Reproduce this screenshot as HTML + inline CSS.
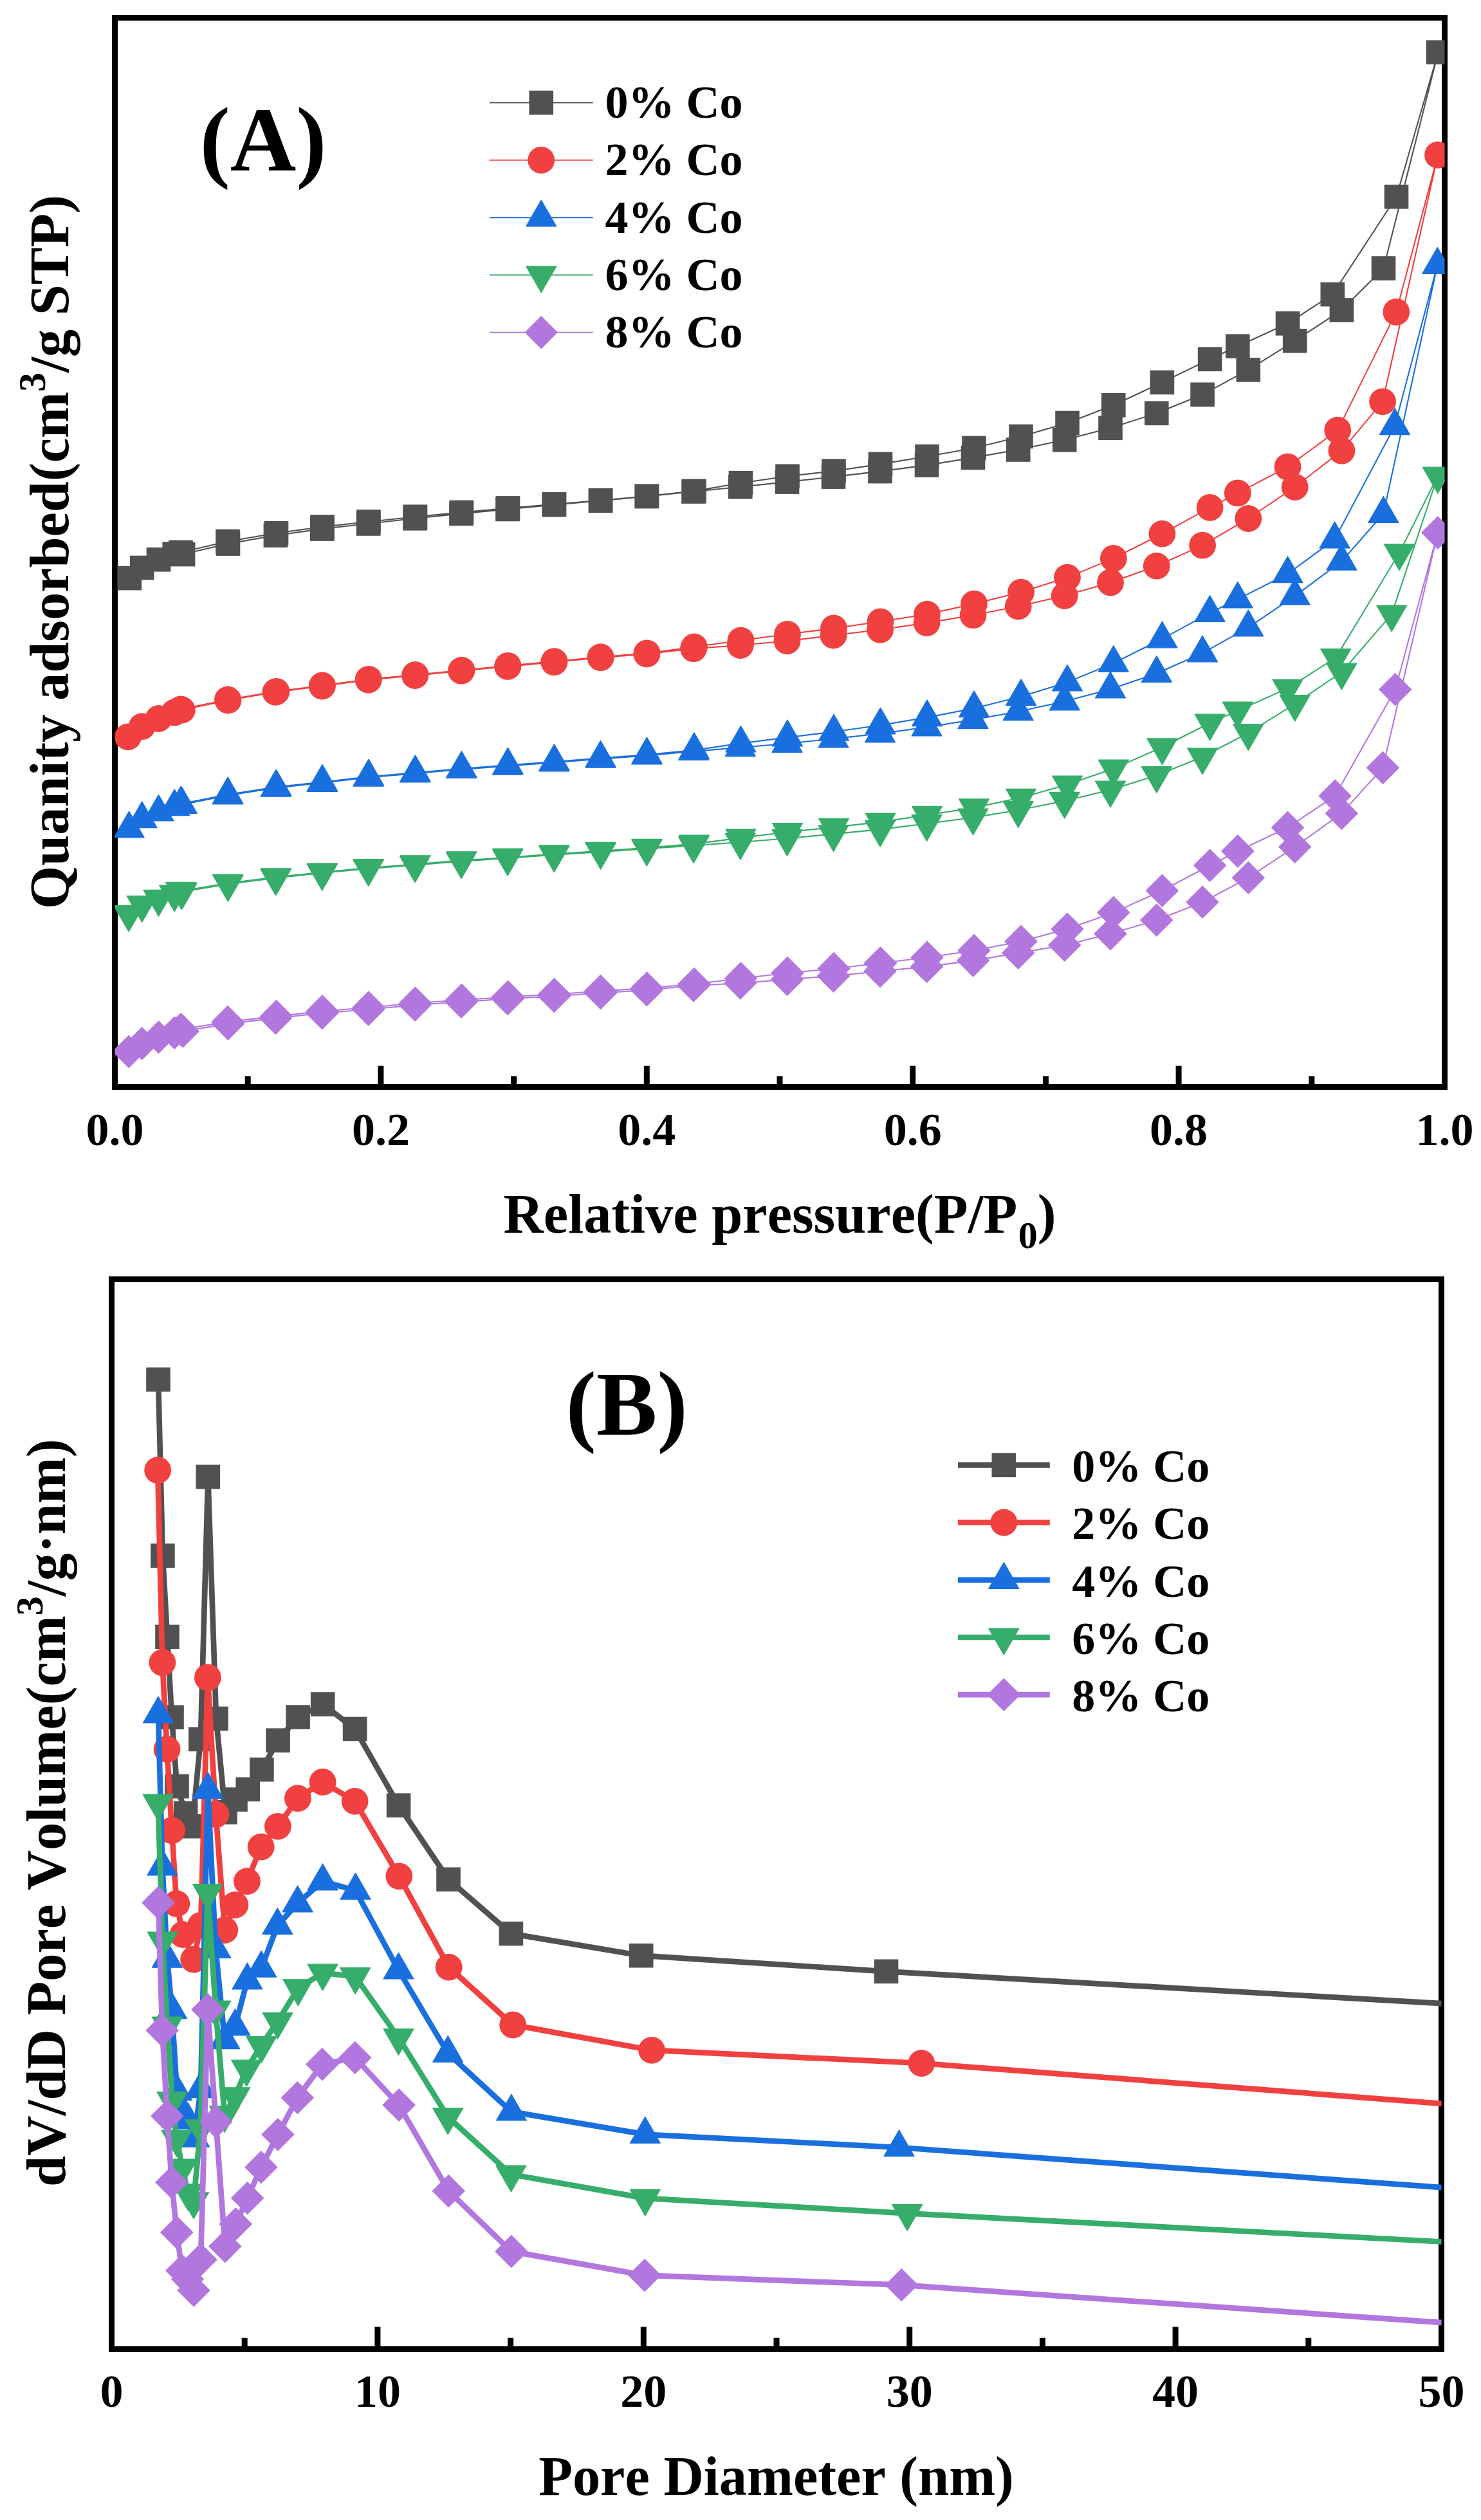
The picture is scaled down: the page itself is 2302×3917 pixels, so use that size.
<!DOCTYPE html>
<html><head><meta charset="utf-8"><title>N2 adsorption isotherms and pore size distribution</title>
<style>html,body{margin:0;padding:0;background:#fff}svg{display:block}</style></head>
<body>
<svg width="2302" height="3917" viewBox="0 0 2302 3917" font-family="'Liberation Serif','Times New Roman',serif" font-weight="bold" fill="#000" style="font-kerning:none">
<defs><clipPath id="ca"><rect x="178.5" y="27.5" width="2067" height="1662"/></clipPath><clipPath id="cb"><rect x="173.5" y="1988.5" width="2067" height="1663"/></clipPath></defs>
<rect width="2302" height="3917" fill="#fff"/>
<rect x="178.5" y="27.5" width="2067" height="1662" fill="none" stroke="#000" stroke-width="9"/>
<g stroke="#000" stroke-width="9"><line x1="591.9" y1="1689.5" x2="591.9" y2="1656.7"/><line x1="1005.3" y1="1689.5" x2="1005.3" y2="1656.7"/><line x1="1418.7" y1="1689.5" x2="1418.7" y2="1656.7"/><line x1="1832.1" y1="1689.5" x2="1832.1" y2="1656.7"/><line x1="385.2" y1="1689.5" x2="385.2" y2="1672.9"/><line x1="798.6" y1="1689.5" x2="798.6" y2="1672.9"/><line x1="1212" y1="1689.5" x2="1212" y2="1672.9"/><line x1="1625.4" y1="1689.5" x2="1625.4" y2="1672.9"/><line x1="2038.8" y1="1689.5" x2="2038.8" y2="1672.9"/></g>
<g clip-path="url(#ca)"><polyline fill="none" stroke="#515151" stroke-width="2.1" stroke-linejoin="round" points="201.3,898.6 220.7,882.5 246.5,869.8 271.2,861 284.6,861.6 354.5,845.1 428.4,832.2 500.7,822.1 572.6,814 645,805.8 717,798.4 789,791.5 861.3,784.7 933.6,778.3 1005.3,771.6 1078,764 1150.8,756.7 1223.5,749.1 1295.5,741.1 1368,732.6 1440.5,723.1 1512.5,711.4 1582.7,699 1654.7,683.8 1726,665.3 1797.8,642.3 1869.1,613.3 1940.3,574.9 2012.7,529.8 2085.4,482 2150.5,417 2235.5,81.3 2170.5,305.8 2071.3,457.6 2001.5,502.8 1923.8,538.2 1880.6,558.3 1806.4,594.4 1730.8,629.8 1659,657.5 1587,678.4 1514,696.5 1441,709.5 1368.5,721.4 1296,732.2 1224,740.3 1151.5,750.7 1079,763.4 1005.5,771.2 933.5,777.7 861.5,783.7 789.5,789.9 717.5,796.4 645.5,803.2 573,811 501,818.9 429.5,828.8 354,841.5 281,858.5"/>
<rect x="182.5" y="879.8" width="37.6" height="37.6" fill="#515151"/>
<rect x="201.9" y="863.7" width="37.6" height="37.6" fill="#515151"/>
<rect x="227.7" y="851" width="37.6" height="37.6" fill="#515151"/>
<rect x="252.4" y="842.2" width="37.6" height="37.6" fill="#515151"/>
<rect x="265.8" y="842.8" width="37.6" height="37.6" fill="#515151"/>
<rect x="335.7" y="826.3" width="37.6" height="37.6" fill="#515151"/>
<rect x="409.6" y="813.4" width="37.6" height="37.6" fill="#515151"/>
<rect x="481.9" y="803.3" width="37.6" height="37.6" fill="#515151"/>
<rect x="553.8" y="795.2" width="37.6" height="37.6" fill="#515151"/>
<rect x="626.2" y="787" width="37.6" height="37.6" fill="#515151"/>
<rect x="698.2" y="779.6" width="37.6" height="37.6" fill="#515151"/>
<rect x="770.2" y="772.7" width="37.6" height="37.6" fill="#515151"/>
<rect x="842.5" y="765.9" width="37.6" height="37.6" fill="#515151"/>
<rect x="914.8" y="759.5" width="37.6" height="37.6" fill="#515151"/>
<rect x="986.5" y="752.8" width="37.6" height="37.6" fill="#515151"/>
<rect x="1059.2" y="745.2" width="37.6" height="37.6" fill="#515151"/>
<rect x="1132" y="737.9" width="37.6" height="37.6" fill="#515151"/>
<rect x="1204.7" y="730.3" width="37.6" height="37.6" fill="#515151"/>
<rect x="1276.7" y="722.3" width="37.6" height="37.6" fill="#515151"/>
<rect x="1349.2" y="713.8" width="37.6" height="37.6" fill="#515151"/>
<rect x="1421.7" y="704.3" width="37.6" height="37.6" fill="#515151"/>
<rect x="1493.7" y="692.6" width="37.6" height="37.6" fill="#515151"/>
<rect x="1563.9" y="680.2" width="37.6" height="37.6" fill="#515151"/>
<rect x="1635.9" y="665" width="37.6" height="37.6" fill="#515151"/>
<rect x="1707.2" y="646.5" width="37.6" height="37.6" fill="#515151"/>
<rect x="1779" y="623.5" width="37.6" height="37.6" fill="#515151"/>
<rect x="1850.3" y="594.5" width="37.6" height="37.6" fill="#515151"/>
<rect x="1921.5" y="556.1" width="37.6" height="37.6" fill="#515151"/>
<rect x="1993.9" y="511" width="37.6" height="37.6" fill="#515151"/>
<rect x="2066.6" y="463.2" width="37.6" height="37.6" fill="#515151"/>
<rect x="2131.7" y="398.2" width="37.6" height="37.6" fill="#515151"/>
<rect x="2216.7" y="62.5" width="37.6" height="37.6" fill="#515151"/>
<rect x="2151.7" y="287" width="37.6" height="37.6" fill="#515151"/>
<rect x="2052.5" y="438.8" width="37.6" height="37.6" fill="#515151"/>
<rect x="1982.7" y="484" width="37.6" height="37.6" fill="#515151"/>
<rect x="1905" y="519.4" width="37.6" height="37.6" fill="#515151"/>
<rect x="1861.8" y="539.5" width="37.6" height="37.6" fill="#515151"/>
<rect x="1787.6" y="575.6" width="37.6" height="37.6" fill="#515151"/>
<rect x="1712" y="611" width="37.6" height="37.6" fill="#515151"/>
<rect x="1640.2" y="638.7" width="37.6" height="37.6" fill="#515151"/>
<rect x="1568.2" y="659.6" width="37.6" height="37.6" fill="#515151"/>
<rect x="1495.2" y="677.7" width="37.6" height="37.6" fill="#515151"/>
<rect x="1422.2" y="690.7" width="37.6" height="37.6" fill="#515151"/>
<rect x="1349.7" y="702.6" width="37.6" height="37.6" fill="#515151"/>
<rect x="1277.2" y="713.4" width="37.6" height="37.6" fill="#515151"/>
<rect x="1205.2" y="721.5" width="37.6" height="37.6" fill="#515151"/>
<rect x="1132.7" y="731.9" width="37.6" height="37.6" fill="#515151"/>
<rect x="1060.2" y="744.6" width="37.6" height="37.6" fill="#515151"/>
<rect x="986.7" y="752.4" width="37.6" height="37.6" fill="#515151"/>
<rect x="914.7" y="758.9" width="37.6" height="37.6" fill="#515151"/>
<rect x="842.7" y="764.9" width="37.6" height="37.6" fill="#515151"/>
<rect x="770.7" y="771.1" width="37.6" height="37.6" fill="#515151"/>
<rect x="698.7" y="777.6" width="37.6" height="37.6" fill="#515151"/>
<rect x="626.7" y="784.4" width="37.6" height="37.6" fill="#515151"/>
<rect x="554.2" y="792.2" width="37.6" height="37.6" fill="#515151"/>
<rect x="482.2" y="800.1" width="37.6" height="37.6" fill="#515151"/>
<rect x="410.7" y="810" width="37.6" height="37.6" fill="#515151"/>
<rect x="335.2" y="822.7" width="37.6" height="37.6" fill="#515151"/>
<rect x="262.2" y="839.7" width="37.6" height="37.6" fill="#515151"/>
<polyline fill="none" stroke="#F14040" stroke-width="2.1" stroke-linejoin="round" points="199,1145.3 220.7,1129.2 246.5,1117 271.2,1107.4 282.8,1103.5 354.5,1088.5 428.4,1075.8 500.7,1066.5 572.6,1056.8 645,1050 717,1042.7 789,1035.9 861.3,1029.1 933.6,1022.2 1005.3,1016.4 1078,1008.1 1150.8,1003 1223.5,996.3 1295.5,987.5 1368,978.8 1440.5,968.1 1512.5,956.2 1582.7,942.5 1654.7,926 1726,905.4 1797.8,879.7 1869.1,847.6 1940.3,806 2012.7,757 2085.4,700.6 2149.1,624.3 2235,240.9 2170.3,484.9 2079.2,668.6 2001.5,725.6 1923.8,766.4 1880.6,788.9 1806.4,829.7 1730.8,867.9 1659,897.6 1587,920.6 1514,938.6 1441,954.7 1368.5,966.3 1296,976.5 1224,985.8 1151.5,995.5 1079,1005.5 1005.5,1015.4 933.5,1021.2 861.5,1028.1 789.5,1034.9 717.5,1041.7 645.5,1049 573,1055.8 501,1065.5 429.5,1074.8 354,1087.5 281,1102.5"/>
<circle cx="199" cy="1145.3" r="20.9" fill="#F14040"/>
<circle cx="220.7" cy="1129.2" r="20.9" fill="#F14040"/>
<circle cx="246.5" cy="1117" r="20.9" fill="#F14040"/>
<circle cx="271.2" cy="1107.4" r="20.9" fill="#F14040"/>
<circle cx="282.8" cy="1103.5" r="20.9" fill="#F14040"/>
<circle cx="354.5" cy="1088.5" r="20.9" fill="#F14040"/>
<circle cx="428.4" cy="1075.8" r="20.9" fill="#F14040"/>
<circle cx="500.7" cy="1066.5" r="20.9" fill="#F14040"/>
<circle cx="572.6" cy="1056.8" r="20.9" fill="#F14040"/>
<circle cx="645" cy="1050" r="20.9" fill="#F14040"/>
<circle cx="717" cy="1042.7" r="20.9" fill="#F14040"/>
<circle cx="789" cy="1035.9" r="20.9" fill="#F14040"/>
<circle cx="861.3" cy="1029.1" r="20.9" fill="#F14040"/>
<circle cx="933.6" cy="1022.2" r="20.9" fill="#F14040"/>
<circle cx="1005.3" cy="1016.4" r="20.9" fill="#F14040"/>
<circle cx="1078" cy="1008.1" r="20.9" fill="#F14040"/>
<circle cx="1150.8" cy="1003" r="20.9" fill="#F14040"/>
<circle cx="1223.5" cy="996.3" r="20.9" fill="#F14040"/>
<circle cx="1295.5" cy="987.5" r="20.9" fill="#F14040"/>
<circle cx="1368" cy="978.8" r="20.9" fill="#F14040"/>
<circle cx="1440.5" cy="968.1" r="20.9" fill="#F14040"/>
<circle cx="1512.5" cy="956.2" r="20.9" fill="#F14040"/>
<circle cx="1582.7" cy="942.5" r="20.9" fill="#F14040"/>
<circle cx="1654.7" cy="926" r="20.9" fill="#F14040"/>
<circle cx="1726" cy="905.4" r="20.9" fill="#F14040"/>
<circle cx="1797.8" cy="879.7" r="20.9" fill="#F14040"/>
<circle cx="1869.1" cy="847.6" r="20.9" fill="#F14040"/>
<circle cx="1940.3" cy="806" r="20.9" fill="#F14040"/>
<circle cx="2012.7" cy="757" r="20.9" fill="#F14040"/>
<circle cx="2085.4" cy="700.6" r="20.9" fill="#F14040"/>
<circle cx="2149.1" cy="624.3" r="20.9" fill="#F14040"/>
<circle cx="2235" cy="240.9" r="20.9" fill="#F14040"/>
<circle cx="2170.3" cy="484.9" r="20.9" fill="#F14040"/>
<circle cx="2079.2" cy="668.6" r="20.9" fill="#F14040"/>
<circle cx="2001.5" cy="725.6" r="20.9" fill="#F14040"/>
<circle cx="1923.8" cy="766.4" r="20.9" fill="#F14040"/>
<circle cx="1880.6" cy="788.9" r="20.9" fill="#F14040"/>
<circle cx="1806.4" cy="829.7" r="20.9" fill="#F14040"/>
<circle cx="1730.8" cy="867.9" r="20.9" fill="#F14040"/>
<circle cx="1659" cy="897.6" r="20.9" fill="#F14040"/>
<circle cx="1587" cy="920.6" r="20.9" fill="#F14040"/>
<circle cx="1514" cy="938.6" r="20.9" fill="#F14040"/>
<circle cx="1441" cy="954.7" r="20.9" fill="#F14040"/>
<circle cx="1368.5" cy="966.3" r="20.9" fill="#F14040"/>
<circle cx="1296" cy="976.5" r="20.9" fill="#F14040"/>
<circle cx="1224" cy="985.8" r="20.9" fill="#F14040"/>
<circle cx="1151.5" cy="995.5" r="20.9" fill="#F14040"/>
<circle cx="1079" cy="1005.5" r="20.9" fill="#F14040"/>
<circle cx="1005.5" cy="1015.4" r="20.9" fill="#F14040"/>
<circle cx="933.5" cy="1021.2" r="20.9" fill="#F14040"/>
<circle cx="861.5" cy="1028.1" r="20.9" fill="#F14040"/>
<circle cx="789.5" cy="1034.9" r="20.9" fill="#F14040"/>
<circle cx="717.5" cy="1041.7" r="20.9" fill="#F14040"/>
<circle cx="645.5" cy="1049" r="20.9" fill="#F14040"/>
<circle cx="573" cy="1055.8" r="20.9" fill="#F14040"/>
<circle cx="501" cy="1065.5" r="20.9" fill="#F14040"/>
<circle cx="429.5" cy="1074.8" r="20.9" fill="#F14040"/>
<circle cx="354" cy="1087.5" r="20.9" fill="#F14040"/>
<circle cx="281" cy="1102.5" r="20.9" fill="#F14040"/>
<polyline fill="none" stroke="#1A6FDF" stroke-width="2.1" stroke-linejoin="round" points="200.6,1288.2 220.7,1273.1 246.5,1262.4 271.2,1254.1 282.8,1250.8 354.5,1236.3 428.4,1224.6 500.7,1216.8 572.6,1208.5 645,1202.2 717,1195.9 789,1190.6 861.3,1185.2 933.6,1179.6 1005.3,1174.4 1078,1167.9 1150.8,1162 1223.5,1155.7 1295.5,1148.4 1368,1140.2 1440.5,1130.4 1512.5,1118.8 1582.7,1106 1654.7,1090.2 1726,1071.3 1797.8,1046.8 1869.1,1015.2 1940.3,975.3 2012.7,926.4 2085.4,872.5 2150.3,798.7 2234.3,411.7 2168,662 2074.6,838.3 2001.5,892 1923.8,931.4 1880.6,952.7 1806.4,993.2 1730.8,1030.7 1659,1060.4 1587,1082.7 1514,1101 1441,1115.1 1368.5,1127.3 1296,1137.5 1224,1146.2 1151.5,1155.4 1079,1166 1005.5,1173.2 933.5,1178.4 861.5,1184 789.5,1189.4 717.5,1194.7 645.5,1201 573,1207.3 501,1215.6 429.5,1223.4 354,1235.1 281,1249.6"/>
<polygon points="200.6,1261 224.1,1301.8 177.1,1301.8" fill="#1A6FDF" stroke="#1A6FDF" stroke-width="1.2" stroke-linejoin="round"/>
<polygon points="220.7,1245.9 244.2,1286.7 197.2,1286.7" fill="#1A6FDF" stroke="#1A6FDF" stroke-width="1.2" stroke-linejoin="round"/>
<polygon points="246.5,1235.2 270,1276 223,1276" fill="#1A6FDF" stroke="#1A6FDF" stroke-width="1.2" stroke-linejoin="round"/>
<polygon points="271.2,1226.9 294.7,1267.7 247.7,1267.7" fill="#1A6FDF" stroke="#1A6FDF" stroke-width="1.2" stroke-linejoin="round"/>
<polygon points="282.8,1223.6 306.3,1264.4 259.3,1264.4" fill="#1A6FDF" stroke="#1A6FDF" stroke-width="1.2" stroke-linejoin="round"/>
<polygon points="354.5,1209.1 378,1249.9 331,1249.9" fill="#1A6FDF" stroke="#1A6FDF" stroke-width="1.2" stroke-linejoin="round"/>
<polygon points="428.4,1197.4 451.9,1238.2 404.9,1238.2" fill="#1A6FDF" stroke="#1A6FDF" stroke-width="1.2" stroke-linejoin="round"/>
<polygon points="500.7,1189.6 524.2,1230.4 477.2,1230.4" fill="#1A6FDF" stroke="#1A6FDF" stroke-width="1.2" stroke-linejoin="round"/>
<polygon points="572.6,1181.3 596.1,1222.1 549.1,1222.1" fill="#1A6FDF" stroke="#1A6FDF" stroke-width="1.2" stroke-linejoin="round"/>
<polygon points="645,1175 668.5,1215.8 621.5,1215.8" fill="#1A6FDF" stroke="#1A6FDF" stroke-width="1.2" stroke-linejoin="round"/>
<polygon points="717,1168.7 740.5,1209.5 693.5,1209.5" fill="#1A6FDF" stroke="#1A6FDF" stroke-width="1.2" stroke-linejoin="round"/>
<polygon points="789,1163.4 812.5,1204.2 765.5,1204.2" fill="#1A6FDF" stroke="#1A6FDF" stroke-width="1.2" stroke-linejoin="round"/>
<polygon points="861.3,1158 884.8,1198.8 837.8,1198.8" fill="#1A6FDF" stroke="#1A6FDF" stroke-width="1.2" stroke-linejoin="round"/>
<polygon points="933.6,1152.4 957.1,1193.2 910.1,1193.2" fill="#1A6FDF" stroke="#1A6FDF" stroke-width="1.2" stroke-linejoin="round"/>
<polygon points="1005.3,1147.2 1028.8,1188 981.8,1188" fill="#1A6FDF" stroke="#1A6FDF" stroke-width="1.2" stroke-linejoin="round"/>
<polygon points="1078,1140.7 1101.5,1181.5 1054.5,1181.5" fill="#1A6FDF" stroke="#1A6FDF" stroke-width="1.2" stroke-linejoin="round"/>
<polygon points="1150.8,1134.8 1174.3,1175.6 1127.3,1175.6" fill="#1A6FDF" stroke="#1A6FDF" stroke-width="1.2" stroke-linejoin="round"/>
<polygon points="1223.5,1128.5 1247,1169.3 1200,1169.3" fill="#1A6FDF" stroke="#1A6FDF" stroke-width="1.2" stroke-linejoin="round"/>
<polygon points="1295.5,1121.2 1319,1162 1272,1162" fill="#1A6FDF" stroke="#1A6FDF" stroke-width="1.2" stroke-linejoin="round"/>
<polygon points="1368,1113 1391.5,1153.8 1344.5,1153.8" fill="#1A6FDF" stroke="#1A6FDF" stroke-width="1.2" stroke-linejoin="round"/>
<polygon points="1440.5,1103.2 1464,1144 1417,1144" fill="#1A6FDF" stroke="#1A6FDF" stroke-width="1.2" stroke-linejoin="round"/>
<polygon points="1512.5,1091.6 1536,1132.4 1489,1132.4" fill="#1A6FDF" stroke="#1A6FDF" stroke-width="1.2" stroke-linejoin="round"/>
<polygon points="1582.7,1078.8 1606.2,1119.6 1559.2,1119.6" fill="#1A6FDF" stroke="#1A6FDF" stroke-width="1.2" stroke-linejoin="round"/>
<polygon points="1654.7,1063 1678.2,1103.8 1631.2,1103.8" fill="#1A6FDF" stroke="#1A6FDF" stroke-width="1.2" stroke-linejoin="round"/>
<polygon points="1726,1044.1 1749.5,1084.9 1702.5,1084.9" fill="#1A6FDF" stroke="#1A6FDF" stroke-width="1.2" stroke-linejoin="round"/>
<polygon points="1797.8,1019.6 1821.3,1060.4 1774.3,1060.4" fill="#1A6FDF" stroke="#1A6FDF" stroke-width="1.2" stroke-linejoin="round"/>
<polygon points="1869.1,988 1892.6,1028.8 1845.6,1028.8" fill="#1A6FDF" stroke="#1A6FDF" stroke-width="1.2" stroke-linejoin="round"/>
<polygon points="1940.3,948.1 1963.8,988.9 1916.8,988.9" fill="#1A6FDF" stroke="#1A6FDF" stroke-width="1.2" stroke-linejoin="round"/>
<polygon points="2012.7,899.2 2036.2,940 1989.2,940" fill="#1A6FDF" stroke="#1A6FDF" stroke-width="1.2" stroke-linejoin="round"/>
<polygon points="2085.4,845.3 2108.9,886.1 2061.9,886.1" fill="#1A6FDF" stroke="#1A6FDF" stroke-width="1.2" stroke-linejoin="round"/>
<polygon points="2150.3,771.5 2173.8,812.3 2126.8,812.3" fill="#1A6FDF" stroke="#1A6FDF" stroke-width="1.2" stroke-linejoin="round"/>
<polygon points="2234.3,384.5 2257.8,425.3 2210.8,425.3" fill="#1A6FDF" stroke="#1A6FDF" stroke-width="1.2" stroke-linejoin="round"/>
<polygon points="2168,634.8 2191.5,675.6 2144.5,675.6" fill="#1A6FDF" stroke="#1A6FDF" stroke-width="1.2" stroke-linejoin="round"/>
<polygon points="2074.6,811.1 2098.1,851.9 2051.1,851.9" fill="#1A6FDF" stroke="#1A6FDF" stroke-width="1.2" stroke-linejoin="round"/>
<polygon points="2001.5,864.8 2025,905.6 1978,905.6" fill="#1A6FDF" stroke="#1A6FDF" stroke-width="1.2" stroke-linejoin="round"/>
<polygon points="1923.8,904.2 1947.3,945 1900.3,945" fill="#1A6FDF" stroke="#1A6FDF" stroke-width="1.2" stroke-linejoin="round"/>
<polygon points="1880.6,925.5 1904.1,966.3 1857.1,966.3" fill="#1A6FDF" stroke="#1A6FDF" stroke-width="1.2" stroke-linejoin="round"/>
<polygon points="1806.4,966 1829.9,1006.8 1782.9,1006.8" fill="#1A6FDF" stroke="#1A6FDF" stroke-width="1.2" stroke-linejoin="round"/>
<polygon points="1730.8,1003.5 1754.3,1044.3 1707.3,1044.3" fill="#1A6FDF" stroke="#1A6FDF" stroke-width="1.2" stroke-linejoin="round"/>
<polygon points="1659,1033.2 1682.5,1074 1635.5,1074" fill="#1A6FDF" stroke="#1A6FDF" stroke-width="1.2" stroke-linejoin="round"/>
<polygon points="1587,1055.5 1610.5,1096.3 1563.5,1096.3" fill="#1A6FDF" stroke="#1A6FDF" stroke-width="1.2" stroke-linejoin="round"/>
<polygon points="1514,1073.8 1537.5,1114.6 1490.5,1114.6" fill="#1A6FDF" stroke="#1A6FDF" stroke-width="1.2" stroke-linejoin="round"/>
<polygon points="1441,1087.9 1464.5,1128.7 1417.5,1128.7" fill="#1A6FDF" stroke="#1A6FDF" stroke-width="1.2" stroke-linejoin="round"/>
<polygon points="1368.5,1100.1 1392,1140.9 1345,1140.9" fill="#1A6FDF" stroke="#1A6FDF" stroke-width="1.2" stroke-linejoin="round"/>
<polygon points="1296,1110.3 1319.5,1151.1 1272.5,1151.1" fill="#1A6FDF" stroke="#1A6FDF" stroke-width="1.2" stroke-linejoin="round"/>
<polygon points="1224,1119 1247.5,1159.8 1200.5,1159.8" fill="#1A6FDF" stroke="#1A6FDF" stroke-width="1.2" stroke-linejoin="round"/>
<polygon points="1151.5,1128.2 1175,1169 1128,1169" fill="#1A6FDF" stroke="#1A6FDF" stroke-width="1.2" stroke-linejoin="round"/>
<polygon points="1079,1138.8 1102.5,1179.6 1055.5,1179.6" fill="#1A6FDF" stroke="#1A6FDF" stroke-width="1.2" stroke-linejoin="round"/>
<polygon points="1005.5,1146 1029,1186.8 982,1186.8" fill="#1A6FDF" stroke="#1A6FDF" stroke-width="1.2" stroke-linejoin="round"/>
<polygon points="933.5,1151.2 957,1192 910,1192" fill="#1A6FDF" stroke="#1A6FDF" stroke-width="1.2" stroke-linejoin="round"/>
<polygon points="861.5,1156.8 885,1197.6 838,1197.6" fill="#1A6FDF" stroke="#1A6FDF" stroke-width="1.2" stroke-linejoin="round"/>
<polygon points="789.5,1162.2 813,1203 766,1203" fill="#1A6FDF" stroke="#1A6FDF" stroke-width="1.2" stroke-linejoin="round"/>
<polygon points="717.5,1167.5 741,1208.3 694,1208.3" fill="#1A6FDF" stroke="#1A6FDF" stroke-width="1.2" stroke-linejoin="round"/>
<polygon points="645.5,1173.8 669,1214.6 622,1214.6" fill="#1A6FDF" stroke="#1A6FDF" stroke-width="1.2" stroke-linejoin="round"/>
<polygon points="573,1180.1 596.5,1220.9 549.5,1220.9" fill="#1A6FDF" stroke="#1A6FDF" stroke-width="1.2" stroke-linejoin="round"/>
<polygon points="501,1188.4 524.5,1229.2 477.5,1229.2" fill="#1A6FDF" stroke="#1A6FDF" stroke-width="1.2" stroke-linejoin="round"/>
<polygon points="429.5,1196.2 453,1237 406,1237" fill="#1A6FDF" stroke="#1A6FDF" stroke-width="1.2" stroke-linejoin="round"/>
<polygon points="354,1207.9 377.5,1248.7 330.5,1248.7" fill="#1A6FDF" stroke="#1A6FDF" stroke-width="1.2" stroke-linejoin="round"/>
<polygon points="281,1222.4 304.5,1263.2 257.5,1263.2" fill="#1A6FDF" stroke="#1A6FDF" stroke-width="1.2" stroke-linejoin="round"/>
<polyline fill="none" stroke="#37AD6B" stroke-width="2.1" stroke-linejoin="round" points="200.1,1421 220.7,1406.3 246.5,1397 271.2,1389.7 282.8,1386.2 354.5,1374.1 428.4,1364.6 500.7,1356.9 572.6,1350.3 645,1344.6 717,1338.6 789,1334 861.3,1328.6 933.6,1324.1 1005.3,1319.1 1078,1314.4 1150.8,1309 1223.5,1303.2 1295.5,1296.4 1368,1289.1 1440.5,1280.3 1512.5,1270.8 1582.7,1259.2 1654.7,1245 1726,1227.8 1797.8,1205.3 1869.1,1176.5 1940.3,1139.3 2012.7,1094.1 2085.4,1044.8 2163.2,954.6 2234.8,739.8 2175,859.5 2076.3,1022.2 2001.5,1069.9 1923.8,1104.7 1880.6,1123.8 1806.4,1161.5 1730.8,1194.7 1659,1219.6 1587,1239.9 1514,1255.5 1441,1266.9 1368.5,1277.6 1296,1285.9 1224,1293.2 1151.5,1302.4 1079,1311.6 1005.5,1317.9 933.5,1322.9 861.5,1327.4 789.5,1332.8 717.5,1337.4 645.5,1343.4 573,1349.1 501,1355.7 429.5,1363.4 354,1372.9 281,1385"/>
<polygon points="200.1,1448.2 223.6,1407.4 176.6,1407.4" fill="#37AD6B" stroke="#37AD6B" stroke-width="1.2" stroke-linejoin="round"/>
<polygon points="220.7,1433.5 244.2,1392.7 197.2,1392.7" fill="#37AD6B" stroke="#37AD6B" stroke-width="1.2" stroke-linejoin="round"/>
<polygon points="246.5,1424.2 270,1383.4 223,1383.4" fill="#37AD6B" stroke="#37AD6B" stroke-width="1.2" stroke-linejoin="round"/>
<polygon points="271.2,1416.9 294.7,1376.1 247.7,1376.1" fill="#37AD6B" stroke="#37AD6B" stroke-width="1.2" stroke-linejoin="round"/>
<polygon points="282.8,1413.4 306.3,1372.6 259.3,1372.6" fill="#37AD6B" stroke="#37AD6B" stroke-width="1.2" stroke-linejoin="round"/>
<polygon points="354.5,1401.3 378,1360.5 331,1360.5" fill="#37AD6B" stroke="#37AD6B" stroke-width="1.2" stroke-linejoin="round"/>
<polygon points="428.4,1391.8 451.9,1351 404.9,1351" fill="#37AD6B" stroke="#37AD6B" stroke-width="1.2" stroke-linejoin="round"/>
<polygon points="500.7,1384.1 524.2,1343.3 477.2,1343.3" fill="#37AD6B" stroke="#37AD6B" stroke-width="1.2" stroke-linejoin="round"/>
<polygon points="572.6,1377.5 596.1,1336.7 549.1,1336.7" fill="#37AD6B" stroke="#37AD6B" stroke-width="1.2" stroke-linejoin="round"/>
<polygon points="645,1371.8 668.5,1331 621.5,1331" fill="#37AD6B" stroke="#37AD6B" stroke-width="1.2" stroke-linejoin="round"/>
<polygon points="717,1365.8 740.5,1325 693.5,1325" fill="#37AD6B" stroke="#37AD6B" stroke-width="1.2" stroke-linejoin="round"/>
<polygon points="789,1361.2 812.5,1320.4 765.5,1320.4" fill="#37AD6B" stroke="#37AD6B" stroke-width="1.2" stroke-linejoin="round"/>
<polygon points="861.3,1355.8 884.8,1315 837.8,1315" fill="#37AD6B" stroke="#37AD6B" stroke-width="1.2" stroke-linejoin="round"/>
<polygon points="933.6,1351.3 957.1,1310.5 910.1,1310.5" fill="#37AD6B" stroke="#37AD6B" stroke-width="1.2" stroke-linejoin="round"/>
<polygon points="1005.3,1346.3 1028.8,1305.5 981.8,1305.5" fill="#37AD6B" stroke="#37AD6B" stroke-width="1.2" stroke-linejoin="round"/>
<polygon points="1078,1341.6 1101.5,1300.8 1054.5,1300.8" fill="#37AD6B" stroke="#37AD6B" stroke-width="1.2" stroke-linejoin="round"/>
<polygon points="1150.8,1336.2 1174.3,1295.4 1127.3,1295.4" fill="#37AD6B" stroke="#37AD6B" stroke-width="1.2" stroke-linejoin="round"/>
<polygon points="1223.5,1330.4 1247,1289.6 1200,1289.6" fill="#37AD6B" stroke="#37AD6B" stroke-width="1.2" stroke-linejoin="round"/>
<polygon points="1295.5,1323.6 1319,1282.8 1272,1282.8" fill="#37AD6B" stroke="#37AD6B" stroke-width="1.2" stroke-linejoin="round"/>
<polygon points="1368,1316.3 1391.5,1275.5 1344.5,1275.5" fill="#37AD6B" stroke="#37AD6B" stroke-width="1.2" stroke-linejoin="round"/>
<polygon points="1440.5,1307.5 1464,1266.7 1417,1266.7" fill="#37AD6B" stroke="#37AD6B" stroke-width="1.2" stroke-linejoin="round"/>
<polygon points="1512.5,1298 1536,1257.2 1489,1257.2" fill="#37AD6B" stroke="#37AD6B" stroke-width="1.2" stroke-linejoin="round"/>
<polygon points="1582.7,1286.4 1606.2,1245.6 1559.2,1245.6" fill="#37AD6B" stroke="#37AD6B" stroke-width="1.2" stroke-linejoin="round"/>
<polygon points="1654.7,1272.2 1678.2,1231.4 1631.2,1231.4" fill="#37AD6B" stroke="#37AD6B" stroke-width="1.2" stroke-linejoin="round"/>
<polygon points="1726,1255 1749.5,1214.2 1702.5,1214.2" fill="#37AD6B" stroke="#37AD6B" stroke-width="1.2" stroke-linejoin="round"/>
<polygon points="1797.8,1232.5 1821.3,1191.7 1774.3,1191.7" fill="#37AD6B" stroke="#37AD6B" stroke-width="1.2" stroke-linejoin="round"/>
<polygon points="1869.1,1203.7 1892.6,1162.9 1845.6,1162.9" fill="#37AD6B" stroke="#37AD6B" stroke-width="1.2" stroke-linejoin="round"/>
<polygon points="1940.3,1166.5 1963.8,1125.7 1916.8,1125.7" fill="#37AD6B" stroke="#37AD6B" stroke-width="1.2" stroke-linejoin="round"/>
<polygon points="2012.7,1121.3 2036.2,1080.5 1989.2,1080.5" fill="#37AD6B" stroke="#37AD6B" stroke-width="1.2" stroke-linejoin="round"/>
<polygon points="2085.4,1072 2108.9,1031.2 2061.9,1031.2" fill="#37AD6B" stroke="#37AD6B" stroke-width="1.2" stroke-linejoin="round"/>
<polygon points="2163.2,981.8 2186.7,941 2139.7,941" fill="#37AD6B" stroke="#37AD6B" stroke-width="1.2" stroke-linejoin="round"/>
<polygon points="2234.8,767 2258.3,726.2 2211.3,726.2" fill="#37AD6B" stroke="#37AD6B" stroke-width="1.2" stroke-linejoin="round"/>
<polygon points="2175,886.7 2198.5,845.9 2151.5,845.9" fill="#37AD6B" stroke="#37AD6B" stroke-width="1.2" stroke-linejoin="round"/>
<polygon points="2076.3,1049.4 2099.8,1008.6 2052.8,1008.6" fill="#37AD6B" stroke="#37AD6B" stroke-width="1.2" stroke-linejoin="round"/>
<polygon points="2001.5,1097.1 2025,1056.3 1978,1056.3" fill="#37AD6B" stroke="#37AD6B" stroke-width="1.2" stroke-linejoin="round"/>
<polygon points="1923.8,1131.9 1947.3,1091.1 1900.3,1091.1" fill="#37AD6B" stroke="#37AD6B" stroke-width="1.2" stroke-linejoin="round"/>
<polygon points="1880.6,1151 1904.1,1110.2 1857.1,1110.2" fill="#37AD6B" stroke="#37AD6B" stroke-width="1.2" stroke-linejoin="round"/>
<polygon points="1806.4,1188.7 1829.9,1147.9 1782.9,1147.9" fill="#37AD6B" stroke="#37AD6B" stroke-width="1.2" stroke-linejoin="round"/>
<polygon points="1730.8,1221.9 1754.3,1181.1 1707.3,1181.1" fill="#37AD6B" stroke="#37AD6B" stroke-width="1.2" stroke-linejoin="round"/>
<polygon points="1659,1246.8 1682.5,1206 1635.5,1206" fill="#37AD6B" stroke="#37AD6B" stroke-width="1.2" stroke-linejoin="round"/>
<polygon points="1587,1267.1 1610.5,1226.3 1563.5,1226.3" fill="#37AD6B" stroke="#37AD6B" stroke-width="1.2" stroke-linejoin="round"/>
<polygon points="1514,1282.7 1537.5,1241.9 1490.5,1241.9" fill="#37AD6B" stroke="#37AD6B" stroke-width="1.2" stroke-linejoin="round"/>
<polygon points="1441,1294.1 1464.5,1253.3 1417.5,1253.3" fill="#37AD6B" stroke="#37AD6B" stroke-width="1.2" stroke-linejoin="round"/>
<polygon points="1368.5,1304.8 1392,1264 1345,1264" fill="#37AD6B" stroke="#37AD6B" stroke-width="1.2" stroke-linejoin="round"/>
<polygon points="1296,1313.1 1319.5,1272.3 1272.5,1272.3" fill="#37AD6B" stroke="#37AD6B" stroke-width="1.2" stroke-linejoin="round"/>
<polygon points="1224,1320.4 1247.5,1279.6 1200.5,1279.6" fill="#37AD6B" stroke="#37AD6B" stroke-width="1.2" stroke-linejoin="round"/>
<polygon points="1151.5,1329.6 1175,1288.8 1128,1288.8" fill="#37AD6B" stroke="#37AD6B" stroke-width="1.2" stroke-linejoin="round"/>
<polygon points="1079,1338.8 1102.5,1298 1055.5,1298" fill="#37AD6B" stroke="#37AD6B" stroke-width="1.2" stroke-linejoin="round"/>
<polygon points="1005.5,1345.1 1029,1304.3 982,1304.3" fill="#37AD6B" stroke="#37AD6B" stroke-width="1.2" stroke-linejoin="round"/>
<polygon points="933.5,1350.1 957,1309.3 910,1309.3" fill="#37AD6B" stroke="#37AD6B" stroke-width="1.2" stroke-linejoin="round"/>
<polygon points="861.5,1354.6 885,1313.8 838,1313.8" fill="#37AD6B" stroke="#37AD6B" stroke-width="1.2" stroke-linejoin="round"/>
<polygon points="789.5,1360 813,1319.2 766,1319.2" fill="#37AD6B" stroke="#37AD6B" stroke-width="1.2" stroke-linejoin="round"/>
<polygon points="717.5,1364.6 741,1323.8 694,1323.8" fill="#37AD6B" stroke="#37AD6B" stroke-width="1.2" stroke-linejoin="round"/>
<polygon points="645.5,1370.6 669,1329.8 622,1329.8" fill="#37AD6B" stroke="#37AD6B" stroke-width="1.2" stroke-linejoin="round"/>
<polygon points="573,1376.3 596.5,1335.5 549.5,1335.5" fill="#37AD6B" stroke="#37AD6B" stroke-width="1.2" stroke-linejoin="round"/>
<polygon points="501,1382.9 524.5,1342.1 477.5,1342.1" fill="#37AD6B" stroke="#37AD6B" stroke-width="1.2" stroke-linejoin="round"/>
<polygon points="429.5,1390.6 453,1349.8 406,1349.8" fill="#37AD6B" stroke="#37AD6B" stroke-width="1.2" stroke-linejoin="round"/>
<polygon points="354,1400.1 377.5,1359.3 330.5,1359.3" fill="#37AD6B" stroke="#37AD6B" stroke-width="1.2" stroke-linejoin="round"/>
<polygon points="281,1412.2 304.5,1371.4 257.5,1371.4" fill="#37AD6B" stroke="#37AD6B" stroke-width="1.2" stroke-linejoin="round"/>
<polyline fill="none" stroke="#B177DE" stroke-width="2.1" stroke-linejoin="round" points="200.1,1634.6 220.7,1622 246.5,1612.2 271.2,1605.4 284.2,1603 354.5,1591.4 428.4,1582.6 500.7,1574.8 572.6,1569 645,1562.2 717,1557.3 789,1552.5 861.3,1548.5 933.6,1543.5 1005.3,1538.9 1078,1532 1150.8,1528.2 1223.5,1522.4 1295.5,1517 1368,1509.7 1440.5,1502.4 1512.5,1493.1 1582.7,1481.2 1654.7,1469.1 1726,1451.5 1797.8,1430.2 1869.1,1402.2 1940.3,1364.4 2012.7,1316.3 2085.4,1264.3 2149.4,1193.4 2234.8,828 2168.7,1071.7 2075.1,1237.1 2001.5,1286.3 1923.8,1323 1880.6,1345.2 1806.4,1384.3 1730.8,1418.4 1659,1444.1 1587,1463.3 1514,1477.5 1441,1488.2 1368.5,1497 1296,1505.7 1224,1512.5 1151.5,1520.8 1079,1529.5 1005.5,1535.9 933.5,1540.5 861.5,1545.5 789.5,1549.5 717.5,1554.3 645.5,1559.2 573,1566 501,1571.8 429.5,1579.6 354,1588.4 281,1600"/>
<polygon points="200.1,1609.6 225.1,1634.6 200.1,1659.6 175.1,1634.6" fill="#B177DE" stroke="#B177DE" stroke-width="1.2" stroke-linejoin="round"/>
<polygon points="220.7,1597 245.7,1622 220.7,1647 195.7,1622" fill="#B177DE" stroke="#B177DE" stroke-width="1.2" stroke-linejoin="round"/>
<polygon points="246.5,1587.2 271.5,1612.2 246.5,1637.2 221.5,1612.2" fill="#B177DE" stroke="#B177DE" stroke-width="1.2" stroke-linejoin="round"/>
<polygon points="271.2,1580.4 296.2,1605.4 271.2,1630.4 246.2,1605.4" fill="#B177DE" stroke="#B177DE" stroke-width="1.2" stroke-linejoin="round"/>
<polygon points="284.2,1578 309.2,1603 284.2,1628 259.2,1603" fill="#B177DE" stroke="#B177DE" stroke-width="1.2" stroke-linejoin="round"/>
<polygon points="354.5,1566.4 379.5,1591.4 354.5,1616.4 329.5,1591.4" fill="#B177DE" stroke="#B177DE" stroke-width="1.2" stroke-linejoin="round"/>
<polygon points="428.4,1557.6 453.4,1582.6 428.4,1607.6 403.4,1582.6" fill="#B177DE" stroke="#B177DE" stroke-width="1.2" stroke-linejoin="round"/>
<polygon points="500.7,1549.8 525.7,1574.8 500.7,1599.8 475.7,1574.8" fill="#B177DE" stroke="#B177DE" stroke-width="1.2" stroke-linejoin="round"/>
<polygon points="572.6,1544 597.6,1569 572.6,1594 547.6,1569" fill="#B177DE" stroke="#B177DE" stroke-width="1.2" stroke-linejoin="round"/>
<polygon points="645,1537.2 670,1562.2 645,1587.2 620,1562.2" fill="#B177DE" stroke="#B177DE" stroke-width="1.2" stroke-linejoin="round"/>
<polygon points="717,1532.3 742,1557.3 717,1582.3 692,1557.3" fill="#B177DE" stroke="#B177DE" stroke-width="1.2" stroke-linejoin="round"/>
<polygon points="789,1527.5 814,1552.5 789,1577.5 764,1552.5" fill="#B177DE" stroke="#B177DE" stroke-width="1.2" stroke-linejoin="round"/>
<polygon points="861.3,1523.5 886.3,1548.5 861.3,1573.5 836.3,1548.5" fill="#B177DE" stroke="#B177DE" stroke-width="1.2" stroke-linejoin="round"/>
<polygon points="933.6,1518.5 958.6,1543.5 933.6,1568.5 908.6,1543.5" fill="#B177DE" stroke="#B177DE" stroke-width="1.2" stroke-linejoin="round"/>
<polygon points="1005.3,1513.9 1030.3,1538.9 1005.3,1563.9 980.3,1538.9" fill="#B177DE" stroke="#B177DE" stroke-width="1.2" stroke-linejoin="round"/>
<polygon points="1078,1507 1103,1532 1078,1557 1053,1532" fill="#B177DE" stroke="#B177DE" stroke-width="1.2" stroke-linejoin="round"/>
<polygon points="1150.8,1503.2 1175.8,1528.2 1150.8,1553.2 1125.8,1528.2" fill="#B177DE" stroke="#B177DE" stroke-width="1.2" stroke-linejoin="round"/>
<polygon points="1223.5,1497.4 1248.5,1522.4 1223.5,1547.4 1198.5,1522.4" fill="#B177DE" stroke="#B177DE" stroke-width="1.2" stroke-linejoin="round"/>
<polygon points="1295.5,1492 1320.5,1517 1295.5,1542 1270.5,1517" fill="#B177DE" stroke="#B177DE" stroke-width="1.2" stroke-linejoin="round"/>
<polygon points="1368,1484.7 1393,1509.7 1368,1534.7 1343,1509.7" fill="#B177DE" stroke="#B177DE" stroke-width="1.2" stroke-linejoin="round"/>
<polygon points="1440.5,1477.4 1465.5,1502.4 1440.5,1527.4 1415.5,1502.4" fill="#B177DE" stroke="#B177DE" stroke-width="1.2" stroke-linejoin="round"/>
<polygon points="1512.5,1468.1 1537.5,1493.1 1512.5,1518.1 1487.5,1493.1" fill="#B177DE" stroke="#B177DE" stroke-width="1.2" stroke-linejoin="round"/>
<polygon points="1582.7,1456.2 1607.7,1481.2 1582.7,1506.2 1557.7,1481.2" fill="#B177DE" stroke="#B177DE" stroke-width="1.2" stroke-linejoin="round"/>
<polygon points="1654.7,1444.1 1679.7,1469.1 1654.7,1494.1 1629.7,1469.1" fill="#B177DE" stroke="#B177DE" stroke-width="1.2" stroke-linejoin="round"/>
<polygon points="1726,1426.5 1751,1451.5 1726,1476.5 1701,1451.5" fill="#B177DE" stroke="#B177DE" stroke-width="1.2" stroke-linejoin="round"/>
<polygon points="1797.8,1405.2 1822.8,1430.2 1797.8,1455.2 1772.8,1430.2" fill="#B177DE" stroke="#B177DE" stroke-width="1.2" stroke-linejoin="round"/>
<polygon points="1869.1,1377.2 1894.1,1402.2 1869.1,1427.2 1844.1,1402.2" fill="#B177DE" stroke="#B177DE" stroke-width="1.2" stroke-linejoin="round"/>
<polygon points="1940.3,1339.4 1965.3,1364.4 1940.3,1389.4 1915.3,1364.4" fill="#B177DE" stroke="#B177DE" stroke-width="1.2" stroke-linejoin="round"/>
<polygon points="2012.7,1291.3 2037.7,1316.3 2012.7,1341.3 1987.7,1316.3" fill="#B177DE" stroke="#B177DE" stroke-width="1.2" stroke-linejoin="round"/>
<polygon points="2085.4,1239.3 2110.4,1264.3 2085.4,1289.3 2060.4,1264.3" fill="#B177DE" stroke="#B177DE" stroke-width="1.2" stroke-linejoin="round"/>
<polygon points="2149.4,1168.4 2174.4,1193.4 2149.4,1218.4 2124.4,1193.4" fill="#B177DE" stroke="#B177DE" stroke-width="1.2" stroke-linejoin="round"/>
<polygon points="2234.8,803 2259.8,828 2234.8,853 2209.8,828" fill="#B177DE" stroke="#B177DE" stroke-width="1.2" stroke-linejoin="round"/>
<polygon points="2168.7,1046.7 2193.7,1071.7 2168.7,1096.7 2143.7,1071.7" fill="#B177DE" stroke="#B177DE" stroke-width="1.2" stroke-linejoin="round"/>
<polygon points="2075.1,1212.1 2100.1,1237.1 2075.1,1262.1 2050.1,1237.1" fill="#B177DE" stroke="#B177DE" stroke-width="1.2" stroke-linejoin="round"/>
<polygon points="2001.5,1261.3 2026.5,1286.3 2001.5,1311.3 1976.5,1286.3" fill="#B177DE" stroke="#B177DE" stroke-width="1.2" stroke-linejoin="round"/>
<polygon points="1923.8,1298 1948.8,1323 1923.8,1348 1898.8,1323" fill="#B177DE" stroke="#B177DE" stroke-width="1.2" stroke-linejoin="round"/>
<polygon points="1880.6,1320.2 1905.6,1345.2 1880.6,1370.2 1855.6,1345.2" fill="#B177DE" stroke="#B177DE" stroke-width="1.2" stroke-linejoin="round"/>
<polygon points="1806.4,1359.3 1831.4,1384.3 1806.4,1409.3 1781.4,1384.3" fill="#B177DE" stroke="#B177DE" stroke-width="1.2" stroke-linejoin="round"/>
<polygon points="1730.8,1393.4 1755.8,1418.4 1730.8,1443.4 1705.8,1418.4" fill="#B177DE" stroke="#B177DE" stroke-width="1.2" stroke-linejoin="round"/>
<polygon points="1659,1419.1 1684,1444.1 1659,1469.1 1634,1444.1" fill="#B177DE" stroke="#B177DE" stroke-width="1.2" stroke-linejoin="round"/>
<polygon points="1587,1438.3 1612,1463.3 1587,1488.3 1562,1463.3" fill="#B177DE" stroke="#B177DE" stroke-width="1.2" stroke-linejoin="round"/>
<polygon points="1514,1452.5 1539,1477.5 1514,1502.5 1489,1477.5" fill="#B177DE" stroke="#B177DE" stroke-width="1.2" stroke-linejoin="round"/>
<polygon points="1441,1463.2 1466,1488.2 1441,1513.2 1416,1488.2" fill="#B177DE" stroke="#B177DE" stroke-width="1.2" stroke-linejoin="round"/>
<polygon points="1368.5,1472 1393.5,1497 1368.5,1522 1343.5,1497" fill="#B177DE" stroke="#B177DE" stroke-width="1.2" stroke-linejoin="round"/>
<polygon points="1296,1480.7 1321,1505.7 1296,1530.7 1271,1505.7" fill="#B177DE" stroke="#B177DE" stroke-width="1.2" stroke-linejoin="round"/>
<polygon points="1224,1487.5 1249,1512.5 1224,1537.5 1199,1512.5" fill="#B177DE" stroke="#B177DE" stroke-width="1.2" stroke-linejoin="round"/>
<polygon points="1151.5,1495.8 1176.5,1520.8 1151.5,1545.8 1126.5,1520.8" fill="#B177DE" stroke="#B177DE" stroke-width="1.2" stroke-linejoin="round"/>
<polygon points="1079,1504.5 1104,1529.5 1079,1554.5 1054,1529.5" fill="#B177DE" stroke="#B177DE" stroke-width="1.2" stroke-linejoin="round"/>
<polygon points="1005.5,1510.9 1030.5,1535.9 1005.5,1560.9 980.5,1535.9" fill="#B177DE" stroke="#B177DE" stroke-width="1.2" stroke-linejoin="round"/>
<polygon points="933.5,1515.5 958.5,1540.5 933.5,1565.5 908.5,1540.5" fill="#B177DE" stroke="#B177DE" stroke-width="1.2" stroke-linejoin="round"/>
<polygon points="861.5,1520.5 886.5,1545.5 861.5,1570.5 836.5,1545.5" fill="#B177DE" stroke="#B177DE" stroke-width="1.2" stroke-linejoin="round"/>
<polygon points="789.5,1524.5 814.5,1549.5 789.5,1574.5 764.5,1549.5" fill="#B177DE" stroke="#B177DE" stroke-width="1.2" stroke-linejoin="round"/>
<polygon points="717.5,1529.3 742.5,1554.3 717.5,1579.3 692.5,1554.3" fill="#B177DE" stroke="#B177DE" stroke-width="1.2" stroke-linejoin="round"/>
<polygon points="645.5,1534.2 670.5,1559.2 645.5,1584.2 620.5,1559.2" fill="#B177DE" stroke="#B177DE" stroke-width="1.2" stroke-linejoin="round"/>
<polygon points="573,1541 598,1566 573,1591 548,1566" fill="#B177DE" stroke="#B177DE" stroke-width="1.2" stroke-linejoin="round"/>
<polygon points="501,1546.8 526,1571.8 501,1596.8 476,1571.8" fill="#B177DE" stroke="#B177DE" stroke-width="1.2" stroke-linejoin="round"/>
<polygon points="429.5,1554.6 454.5,1579.6 429.5,1604.6 404.5,1579.6" fill="#B177DE" stroke="#B177DE" stroke-width="1.2" stroke-linejoin="round"/>
<polygon points="354,1563.4 379,1588.4 354,1613.4 329,1588.4" fill="#B177DE" stroke="#B177DE" stroke-width="1.2" stroke-linejoin="round"/>
<polygon points="281,1575 306,1600 281,1625 256,1600" fill="#B177DE" stroke="#B177DE" stroke-width="1.2" stroke-linejoin="round"/></g>
<g font-size="72" text-anchor="middle"><text x="178.5" y="1780">0.0</text><text x="591.9" y="1780">0.2</text><text x="1005.3" y="1780">0.4</text><text x="1418.7" y="1780">0.6</text><text x="1832.1" y="1780">0.8</text><text x="2245.5" y="1780">1.0</text></g>
<line x1="760.8" y1="159.6" x2="921.7" y2="159.6" stroke="#515151" stroke-width="1.9"/>
<rect x="822.5" y="140.8" width="37.6" height="37.6" fill="#515151"/>
<text x="940.5" y="183" font-size="72">0% Co</text>
<line x1="760.8" y1="248.9" x2="921.7" y2="248.9" stroke="#F14040" stroke-width="1.9"/>
<circle cx="841.2" cy="248.9" r="20.9" fill="#F14040"/>
<text x="940.5" y="272.3" font-size="72">2% Co</text>
<line x1="760.8" y1="338.2" x2="921.7" y2="338.2" stroke="#1A6FDF" stroke-width="1.9"/>
<polygon points="841.2,311 864.8,351.8 817.8,351.8" fill="#1A6FDF" stroke="#1A6FDF" stroke-width="1.2" stroke-linejoin="round"/>
<text x="940.5" y="361.6" font-size="72">4% Co</text>
<line x1="760.8" y1="427.5" x2="921.7" y2="427.5" stroke="#37AD6B" stroke-width="1.9"/>
<polygon points="841.2,454.7 864.8,413.9 817.8,413.9" fill="#37AD6B" stroke="#37AD6B" stroke-width="1.2" stroke-linejoin="round"/>
<text x="940.5" y="450.9" font-size="72">6% Co</text>
<line x1="760.8" y1="516.7" x2="921.7" y2="516.7" stroke="#B177DE" stroke-width="1.9"/>
<polygon points="841.2,491.7 866.2,516.7 841.2,541.7 816.2,516.7" fill="#B177DE" stroke="#B177DE" stroke-width="1.2" stroke-linejoin="round"/>
<text x="940.5" y="540.1" font-size="72">8% Co</text>
<text x="310.5" y="264.8" font-size="142">(A)</text>
<text x="1212" y="1915.7" font-size="86.4" text-anchor="middle">Relative pressure(P/P<tspan font-size="60" dy="24.5" dx="1.5">0</tspan><tspan dy="-24.5">)</tspan></text>
<text transform="translate(105.8 1413) rotate(-90)" font-size="86.4">Quanity adsorbed(cm<tspan font-size="60" dy="-35.6">3</tspan><tspan dy="35.6">/g STP)</tspan></text>
<rect x="173.5" y="1988.5" width="2067" height="1663" fill="none" stroke="#000" stroke-width="9"/>
<g stroke="#000" stroke-width="9"><line x1="586.9" y1="3651.5" x2="586.9" y2="3616.7"/><line x1="1000.3" y1="3651.5" x2="1000.3" y2="3616.7"/><line x1="1413.7" y1="3651.5" x2="1413.7" y2="3616.7"/><line x1="1827.1" y1="3651.5" x2="1827.1" y2="3616.7"/><line x1="380.2" y1="3651.5" x2="380.2" y2="3633.8"/><line x1="793.6" y1="3651.5" x2="793.6" y2="3633.8"/><line x1="1207" y1="3651.5" x2="1207" y2="3633.8"/><line x1="1620.4" y1="3651.5" x2="1620.4" y2="3633.8"/><line x1="2033.8" y1="3651.5" x2="2033.8" y2="3633.8"/></g>
<g clip-path="url(#cb)"><polyline fill="none" stroke="#515151" stroke-width="8.7" stroke-linejoin="round" points="246,2144.3 252.9,2418.1 260,2544.3 267,2669.3 275,2776.6 288.7,2818.6 299,2838.7 311.8,2703.4 323.3,2295.5 336,2671.4 350,2816.8 366,2797.1 385.2,2781.3 406.9,2750.6 432.1,2705.2 463.1,2669 501.7,2649 551.6,2687.4 619.6,2806.2 697,2921.3 794.4,3005.6 996.7,3039.7 1377.5,3064.3 2320,3118.8"/>
<rect x="227.2" y="2125.5" width="37.6" height="37.6" fill="#515151"/>
<rect x="234.1" y="2399.3" width="37.6" height="37.6" fill="#515151"/>
<rect x="241.2" y="2525.5" width="37.6" height="37.6" fill="#515151"/>
<rect x="248.2" y="2650.5" width="37.6" height="37.6" fill="#515151"/>
<rect x="256.2" y="2757.8" width="37.6" height="37.6" fill="#515151"/>
<rect x="269.9" y="2799.8" width="37.6" height="37.6" fill="#515151"/>
<rect x="280.2" y="2819.9" width="37.6" height="37.6" fill="#515151"/>
<rect x="293" y="2684.6" width="37.6" height="37.6" fill="#515151"/>
<rect x="304.5" y="2276.7" width="37.6" height="37.6" fill="#515151"/>
<rect x="317.2" y="2652.6" width="37.6" height="37.6" fill="#515151"/>
<rect x="331.2" y="2798" width="37.6" height="37.6" fill="#515151"/>
<rect x="347.2" y="2778.3" width="37.6" height="37.6" fill="#515151"/>
<rect x="366.4" y="2762.5" width="37.6" height="37.6" fill="#515151"/>
<rect x="388.1" y="2731.8" width="37.6" height="37.6" fill="#515151"/>
<rect x="413.3" y="2686.4" width="37.6" height="37.6" fill="#515151"/>
<rect x="444.3" y="2650.2" width="37.6" height="37.6" fill="#515151"/>
<rect x="482.9" y="2630.2" width="37.6" height="37.6" fill="#515151"/>
<rect x="532.8" y="2668.6" width="37.6" height="37.6" fill="#515151"/>
<rect x="600.8" y="2787.4" width="37.6" height="37.6" fill="#515151"/>
<rect x="678.2" y="2902.5" width="37.6" height="37.6" fill="#515151"/>
<rect x="775.6" y="2986.8" width="37.6" height="37.6" fill="#515151"/>
<rect x="977.9" y="3020.9" width="37.6" height="37.6" fill="#515151"/>
<rect x="1358.7" y="3045.5" width="37.6" height="37.6" fill="#515151"/>
<polyline fill="none" stroke="#F14040" stroke-width="8.7" stroke-linejoin="round" points="245.2,2285.2 252.4,2584.3 259.5,2719 267.1,2845.2 274.4,2959 284.3,3007 301.2,3045.7 312.1,2992.7 322.9,2607.4 335.5,2820.2 349.3,3000 365.3,2961 384,2924.2 405.7,2870.7 431.9,2838.8 462.9,2795.2 501.6,2769.9 551.6,2799.8 620.3,2916.3 697.7,3057.7 797.2,3147.4 1013,3186.8 1432.3,3207 2320,3275.9"/>
<circle cx="245.2" cy="2285.2" r="20.9" fill="#F14040"/>
<circle cx="252.4" cy="2584.3" r="20.9" fill="#F14040"/>
<circle cx="259.5" cy="2719" r="20.9" fill="#F14040"/>
<circle cx="267.1" cy="2845.2" r="20.9" fill="#F14040"/>
<circle cx="274.4" cy="2959" r="20.9" fill="#F14040"/>
<circle cx="284.3" cy="3007" r="20.9" fill="#F14040"/>
<circle cx="301.2" cy="3045.7" r="20.9" fill="#F14040"/>
<circle cx="312.1" cy="2992.7" r="20.9" fill="#F14040"/>
<circle cx="322.9" cy="2607.4" r="20.9" fill="#F14040"/>
<circle cx="335.5" cy="2820.2" r="20.9" fill="#F14040"/>
<circle cx="349.3" cy="3000" r="20.9" fill="#F14040"/>
<circle cx="365.3" cy="2961" r="20.9" fill="#F14040"/>
<circle cx="384" cy="2924.2" r="20.9" fill="#F14040"/>
<circle cx="405.7" cy="2870.7" r="20.9" fill="#F14040"/>
<circle cx="431.9" cy="2838.8" r="20.9" fill="#F14040"/>
<circle cx="462.9" cy="2795.2" r="20.9" fill="#F14040"/>
<circle cx="501.6" cy="2769.9" r="20.9" fill="#F14040"/>
<circle cx="551.6" cy="2799.8" r="20.9" fill="#F14040"/>
<circle cx="620.3" cy="2916.3" r="20.9" fill="#F14040"/>
<circle cx="697.7" cy="3057.7" r="20.9" fill="#F14040"/>
<circle cx="797.2" cy="3147.4" r="20.9" fill="#F14040"/>
<circle cx="1013" cy="3186.8" r="20.9" fill="#F14040"/>
<circle cx="1432.3" cy="3207" r="20.9" fill="#F14040"/>
<polyline fill="none" stroke="#1A6FDF" stroke-width="8.7" stroke-linejoin="round" points="246,2664.3 252.4,2901.3 259.9,3044.6 267.1,3124 275,3251 281.5,3279 292,3295.6 302,3323.5 312,3247 323.1,2781.9 335.2,3029.8 349.3,3171 365.4,3150 384.4,3078.2 406.2,3059.5 431.3,2993 462.6,2958.3 501.6,2924.2 552.6,2938.6 619.5,3062.4 696.2,3191.6 794.9,3282.4 1002.8,3317.6 1397.5,3338 2320,3406"/>
<polygon points="246,2637.1 269.5,2677.9 222.5,2677.9" fill="#1A6FDF" stroke="#1A6FDF" stroke-width="1.2" stroke-linejoin="round"/>
<polygon points="252.4,2874.1 275.9,2914.9 228.9,2914.9" fill="#1A6FDF" stroke="#1A6FDF" stroke-width="1.2" stroke-linejoin="round"/>
<polygon points="259.9,3017.4 283.4,3058.2 236.4,3058.2" fill="#1A6FDF" stroke="#1A6FDF" stroke-width="1.2" stroke-linejoin="round"/>
<polygon points="267.1,3096.8 290.6,3137.6 243.6,3137.6" fill="#1A6FDF" stroke="#1A6FDF" stroke-width="1.2" stroke-linejoin="round"/>
<polygon points="275,3223.8 298.5,3264.6 251.5,3264.6" fill="#1A6FDF" stroke="#1A6FDF" stroke-width="1.2" stroke-linejoin="round"/>
<polygon points="281.5,3251.8 305,3292.6 258,3292.6" fill="#1A6FDF" stroke="#1A6FDF" stroke-width="1.2" stroke-linejoin="round"/>
<polygon points="292,3268.4 315.5,3309.2 268.5,3309.2" fill="#1A6FDF" stroke="#1A6FDF" stroke-width="1.2" stroke-linejoin="round"/>
<polygon points="302,3296.3 325.5,3337.1 278.5,3337.1" fill="#1A6FDF" stroke="#1A6FDF" stroke-width="1.2" stroke-linejoin="round"/>
<polygon points="312,3219.8 335.5,3260.6 288.5,3260.6" fill="#1A6FDF" stroke="#1A6FDF" stroke-width="1.2" stroke-linejoin="round"/>
<polygon points="323.1,2754.7 346.6,2795.5 299.6,2795.5" fill="#1A6FDF" stroke="#1A6FDF" stroke-width="1.2" stroke-linejoin="round"/>
<polygon points="335.2,3002.6 358.7,3043.4 311.7,3043.4" fill="#1A6FDF" stroke="#1A6FDF" stroke-width="1.2" stroke-linejoin="round"/>
<polygon points="349.3,3143.8 372.8,3184.6 325.8,3184.6" fill="#1A6FDF" stroke="#1A6FDF" stroke-width="1.2" stroke-linejoin="round"/>
<polygon points="365.4,3122.8 388.9,3163.6 341.9,3163.6" fill="#1A6FDF" stroke="#1A6FDF" stroke-width="1.2" stroke-linejoin="round"/>
<polygon points="384.4,3051 407.9,3091.8 360.9,3091.8" fill="#1A6FDF" stroke="#1A6FDF" stroke-width="1.2" stroke-linejoin="round"/>
<polygon points="406.2,3032.3 429.7,3073.1 382.7,3073.1" fill="#1A6FDF" stroke="#1A6FDF" stroke-width="1.2" stroke-linejoin="round"/>
<polygon points="431.3,2965.8 454.8,3006.6 407.8,3006.6" fill="#1A6FDF" stroke="#1A6FDF" stroke-width="1.2" stroke-linejoin="round"/>
<polygon points="462.6,2931.1 486.1,2971.9 439.1,2971.9" fill="#1A6FDF" stroke="#1A6FDF" stroke-width="1.2" stroke-linejoin="round"/>
<polygon points="501.6,2897 525.1,2937.8 478.1,2937.8" fill="#1A6FDF" stroke="#1A6FDF" stroke-width="1.2" stroke-linejoin="round"/>
<polygon points="552.6,2911.4 576.1,2952.2 529.1,2952.2" fill="#1A6FDF" stroke="#1A6FDF" stroke-width="1.2" stroke-linejoin="round"/>
<polygon points="619.5,3035.2 643,3076 596,3076" fill="#1A6FDF" stroke="#1A6FDF" stroke-width="1.2" stroke-linejoin="round"/>
<polygon points="696.2,3164.4 719.7,3205.2 672.7,3205.2" fill="#1A6FDF" stroke="#1A6FDF" stroke-width="1.2" stroke-linejoin="round"/>
<polygon points="794.9,3255.2 818.4,3296 771.4,3296" fill="#1A6FDF" stroke="#1A6FDF" stroke-width="1.2" stroke-linejoin="round"/>
<polygon points="1002.8,3290.4 1026.3,3331.2 979.3,3331.2" fill="#1A6FDF" stroke="#1A6FDF" stroke-width="1.2" stroke-linejoin="round"/>
<polygon points="1397.5,3310.8 1421,3351.6 1374,3351.6" fill="#1A6FDF" stroke="#1A6FDF" stroke-width="1.2" stroke-linejoin="round"/>
<polyline fill="none" stroke="#37AD6B" stroke-width="8.7" stroke-linejoin="round" points="245.6,2802.8 252.7,3016.6 259.9,3148.7 267.5,3265.4 274.5,3325 283.5,3369.6 292,3408.5 301,3421.5 311.6,3308.5 322.9,2942.1 335.3,3123.7 349.1,3287.3 365.3,3258.4 383.2,3215.8 406.3,3179.2 431.6,3142.1 463.3,3090.4 501.6,3066.8 552.2,3072.3 619.5,3167.2 696.2,3290.5 794.4,3379.7 1002.8,3416.9 1410.2,3440.3 2320,3488.7"/>
<polygon points="245.6,2830 269.1,2789.2 222.1,2789.2" fill="#37AD6B" stroke="#37AD6B" stroke-width="1.2" stroke-linejoin="round"/>
<polygon points="252.7,3043.8 276.2,3003 229.2,3003" fill="#37AD6B" stroke="#37AD6B" stroke-width="1.2" stroke-linejoin="round"/>
<polygon points="259.9,3175.9 283.4,3135.1 236.4,3135.1" fill="#37AD6B" stroke="#37AD6B" stroke-width="1.2" stroke-linejoin="round"/>
<polygon points="267.5,3292.6 291,3251.8 244,3251.8" fill="#37AD6B" stroke="#37AD6B" stroke-width="1.2" stroke-linejoin="round"/>
<polygon points="274.5,3352.2 298,3311.4 251,3311.4" fill="#37AD6B" stroke="#37AD6B" stroke-width="1.2" stroke-linejoin="round"/>
<polygon points="283.5,3396.8 307,3356 260,3356" fill="#37AD6B" stroke="#37AD6B" stroke-width="1.2" stroke-linejoin="round"/>
<polygon points="292,3435.7 315.5,3394.9 268.5,3394.9" fill="#37AD6B" stroke="#37AD6B" stroke-width="1.2" stroke-linejoin="round"/>
<polygon points="301,3448.7 324.5,3407.9 277.5,3407.9" fill="#37AD6B" stroke="#37AD6B" stroke-width="1.2" stroke-linejoin="round"/>
<polygon points="311.6,3335.7 335.1,3294.9 288.1,3294.9" fill="#37AD6B" stroke="#37AD6B" stroke-width="1.2" stroke-linejoin="round"/>
<polygon points="322.9,2969.3 346.4,2928.5 299.4,2928.5" fill="#37AD6B" stroke="#37AD6B" stroke-width="1.2" stroke-linejoin="round"/>
<polygon points="335.3,3150.9 358.8,3110.1 311.8,3110.1" fill="#37AD6B" stroke="#37AD6B" stroke-width="1.2" stroke-linejoin="round"/>
<polygon points="349.1,3314.5 372.6,3273.7 325.6,3273.7" fill="#37AD6B" stroke="#37AD6B" stroke-width="1.2" stroke-linejoin="round"/>
<polygon points="365.3,3285.6 388.8,3244.8 341.8,3244.8" fill="#37AD6B" stroke="#37AD6B" stroke-width="1.2" stroke-linejoin="round"/>
<polygon points="383.2,3243 406.7,3202.2 359.7,3202.2" fill="#37AD6B" stroke="#37AD6B" stroke-width="1.2" stroke-linejoin="round"/>
<polygon points="406.3,3206.4 429.8,3165.6 382.8,3165.6" fill="#37AD6B" stroke="#37AD6B" stroke-width="1.2" stroke-linejoin="round"/>
<polygon points="431.6,3169.3 455.1,3128.5 408.1,3128.5" fill="#37AD6B" stroke="#37AD6B" stroke-width="1.2" stroke-linejoin="round"/>
<polygon points="463.3,3117.6 486.8,3076.8 439.8,3076.8" fill="#37AD6B" stroke="#37AD6B" stroke-width="1.2" stroke-linejoin="round"/>
<polygon points="501.6,3094 525.1,3053.2 478.1,3053.2" fill="#37AD6B" stroke="#37AD6B" stroke-width="1.2" stroke-linejoin="round"/>
<polygon points="552.2,3099.5 575.7,3058.7 528.7,3058.7" fill="#37AD6B" stroke="#37AD6B" stroke-width="1.2" stroke-linejoin="round"/>
<polygon points="619.5,3194.4 643,3153.6 596,3153.6" fill="#37AD6B" stroke="#37AD6B" stroke-width="1.2" stroke-linejoin="round"/>
<polygon points="696.2,3317.7 719.7,3276.9 672.7,3276.9" fill="#37AD6B" stroke="#37AD6B" stroke-width="1.2" stroke-linejoin="round"/>
<polygon points="794.4,3406.9 817.9,3366.1 770.9,3366.1" fill="#37AD6B" stroke="#37AD6B" stroke-width="1.2" stroke-linejoin="round"/>
<polygon points="1002.8,3444.1 1026.3,3403.3 979.3,3403.3" fill="#37AD6B" stroke="#37AD6B" stroke-width="1.2" stroke-linejoin="round"/>
<polygon points="1410.2,3467.5 1433.7,3426.7 1386.7,3426.7" fill="#37AD6B" stroke="#37AD6B" stroke-width="1.2" stroke-linejoin="round"/>
<polyline fill="none" stroke="#B177DE" stroke-width="8.7" stroke-linejoin="round" points="246,2957.5 252.2,3156 259.8,3289.2 266.9,3392.2 274.8,3470 282.8,3529.3 291.5,3542.6 301.1,3560.2 312,3512.3 322.9,3123.6 335.6,3298 349.8,3491.7 366.2,3457 384.6,3416.7 405.9,3368.7 431.9,3317.9 462.3,3260.7 500.8,3208.7 551.8,3198.4 620.1,3272 697.2,3405.6 794.9,3499.6 1002,3536.6 1401.3,3551.7 2320,3615.6"/>
<polygon points="246,2932.5 271,2957.5 246,2982.5 221,2957.5" fill="#B177DE" stroke="#B177DE" stroke-width="1.2" stroke-linejoin="round"/>
<polygon points="252.2,3131 277.2,3156 252.2,3181 227.2,3156" fill="#B177DE" stroke="#B177DE" stroke-width="1.2" stroke-linejoin="round"/>
<polygon points="259.8,3264.2 284.8,3289.2 259.8,3314.2 234.8,3289.2" fill="#B177DE" stroke="#B177DE" stroke-width="1.2" stroke-linejoin="round"/>
<polygon points="266.9,3367.2 291.9,3392.2 266.9,3417.2 241.9,3392.2" fill="#B177DE" stroke="#B177DE" stroke-width="1.2" stroke-linejoin="round"/>
<polygon points="274.8,3445 299.8,3470 274.8,3495 249.8,3470" fill="#B177DE" stroke="#B177DE" stroke-width="1.2" stroke-linejoin="round"/>
<polygon points="282.8,3504.3 307.8,3529.3 282.8,3554.3 257.8,3529.3" fill="#B177DE" stroke="#B177DE" stroke-width="1.2" stroke-linejoin="round"/>
<polygon points="291.5,3517.6 316.5,3542.6 291.5,3567.6 266.5,3542.6" fill="#B177DE" stroke="#B177DE" stroke-width="1.2" stroke-linejoin="round"/>
<polygon points="301.1,3535.2 326.1,3560.2 301.1,3585.2 276.1,3560.2" fill="#B177DE" stroke="#B177DE" stroke-width="1.2" stroke-linejoin="round"/>
<polygon points="312,3487.3 337,3512.3 312,3537.3 287,3512.3" fill="#B177DE" stroke="#B177DE" stroke-width="1.2" stroke-linejoin="round"/>
<polygon points="322.9,3098.6 347.9,3123.6 322.9,3148.6 297.9,3123.6" fill="#B177DE" stroke="#B177DE" stroke-width="1.2" stroke-linejoin="round"/>
<polygon points="335.6,3273 360.6,3298 335.6,3323 310.6,3298" fill="#B177DE" stroke="#B177DE" stroke-width="1.2" stroke-linejoin="round"/>
<polygon points="349.8,3466.7 374.8,3491.7 349.8,3516.7 324.8,3491.7" fill="#B177DE" stroke="#B177DE" stroke-width="1.2" stroke-linejoin="round"/>
<polygon points="366.2,3432 391.2,3457 366.2,3482 341.2,3457" fill="#B177DE" stroke="#B177DE" stroke-width="1.2" stroke-linejoin="round"/>
<polygon points="384.6,3391.7 409.6,3416.7 384.6,3441.7 359.6,3416.7" fill="#B177DE" stroke="#B177DE" stroke-width="1.2" stroke-linejoin="round"/>
<polygon points="405.9,3343.7 430.9,3368.7 405.9,3393.7 380.9,3368.7" fill="#B177DE" stroke="#B177DE" stroke-width="1.2" stroke-linejoin="round"/>
<polygon points="431.9,3292.9 456.9,3317.9 431.9,3342.9 406.9,3317.9" fill="#B177DE" stroke="#B177DE" stroke-width="1.2" stroke-linejoin="round"/>
<polygon points="462.3,3235.7 487.3,3260.7 462.3,3285.7 437.3,3260.7" fill="#B177DE" stroke="#B177DE" stroke-width="1.2" stroke-linejoin="round"/>
<polygon points="500.8,3183.7 525.8,3208.7 500.8,3233.7 475.8,3208.7" fill="#B177DE" stroke="#B177DE" stroke-width="1.2" stroke-linejoin="round"/>
<polygon points="551.8,3173.4 576.8,3198.4 551.8,3223.4 526.8,3198.4" fill="#B177DE" stroke="#B177DE" stroke-width="1.2" stroke-linejoin="round"/>
<polygon points="620.1,3247 645.1,3272 620.1,3297 595.1,3272" fill="#B177DE" stroke="#B177DE" stroke-width="1.2" stroke-linejoin="round"/>
<polygon points="697.2,3380.6 722.2,3405.6 697.2,3430.6 672.2,3405.6" fill="#B177DE" stroke="#B177DE" stroke-width="1.2" stroke-linejoin="round"/>
<polygon points="794.9,3474.6 819.9,3499.6 794.9,3524.6 769.9,3499.6" fill="#B177DE" stroke="#B177DE" stroke-width="1.2" stroke-linejoin="round"/>
<polygon points="1002,3511.6 1027,3536.6 1002,3561.6 977,3536.6" fill="#B177DE" stroke="#B177DE" stroke-width="1.2" stroke-linejoin="round"/>
<polygon points="1401.3,3526.7 1426.3,3551.7 1401.3,3576.7 1376.3,3551.7" fill="#B177DE" stroke="#B177DE" stroke-width="1.2" stroke-linejoin="round"/></g>
<g font-size="72" text-anchor="middle"><text x="173.5" y="3741.3">0</text><text x="586.9" y="3741.3">10</text><text x="1000.3" y="3741.3">20</text><text x="1413.7" y="3741.3">30</text><text x="1827.1" y="3741.3">40</text><text x="2240.5" y="3741.3">50</text></g>
<line x1="1488.9" y1="2277.3" x2="1631.8" y2="2277.3" stroke="#515151" stroke-width="8.7"/>
<rect x="1541.5" y="2258.5" width="37.6" height="37.6" fill="#515151"/>
<text x="1666.2" y="2303" font-size="72">0% Co</text>
<line x1="1488.9" y1="2366.5" x2="1631.8" y2="2366.5" stroke="#F14040" stroke-width="8.7"/>
<circle cx="1560.3" cy="2366.5" r="20.9" fill="#F14040"/>
<text x="1666.2" y="2392.2" font-size="72">2% Co</text>
<line x1="1488.9" y1="2455.8" x2="1631.8" y2="2455.8" stroke="#1A6FDF" stroke-width="8.7"/>
<polygon points="1560.3,2428.6 1583.8,2469.4 1536.8,2469.4" fill="#1A6FDF" stroke="#1A6FDF" stroke-width="1.2" stroke-linejoin="round"/>
<text x="1666.2" y="2481.5" font-size="72">4% Co</text>
<line x1="1488.9" y1="2545" x2="1631.8" y2="2545" stroke="#37AD6B" stroke-width="8.7"/>
<polygon points="1560.3,2572.2 1583.8,2531.4 1536.8,2531.4" fill="#37AD6B" stroke="#37AD6B" stroke-width="1.2" stroke-linejoin="round"/>
<text x="1666.2" y="2570.7" font-size="72">6% Co</text>
<line x1="1488.9" y1="2634.2" x2="1631.8" y2="2634.2" stroke="#B177DE" stroke-width="8.7"/>
<polygon points="1560.3,2609.2 1585.3,2634.2 1560.3,2659.2 1535.3,2634.2" fill="#B177DE" stroke="#B177DE" stroke-width="1.2" stroke-linejoin="round"/>
<text x="1666.2" y="2659.9" font-size="72">8% Co</text>
<text x="879.4" y="2229.7" font-size="142">(B)</text>
<text x="1206.5" y="3877.5" font-size="86.4" text-anchor="middle">Pore Diameter (nm)</text>
<text transform="translate(101.3 3399) rotate(-90)" font-size="86.4">dV/dD Pore Volume(cm<tspan font-size="60" dy="-35.6">3</tspan><tspan dy="35.6">/g</tspan>·nm)</text>
</svg>
</body></html>
